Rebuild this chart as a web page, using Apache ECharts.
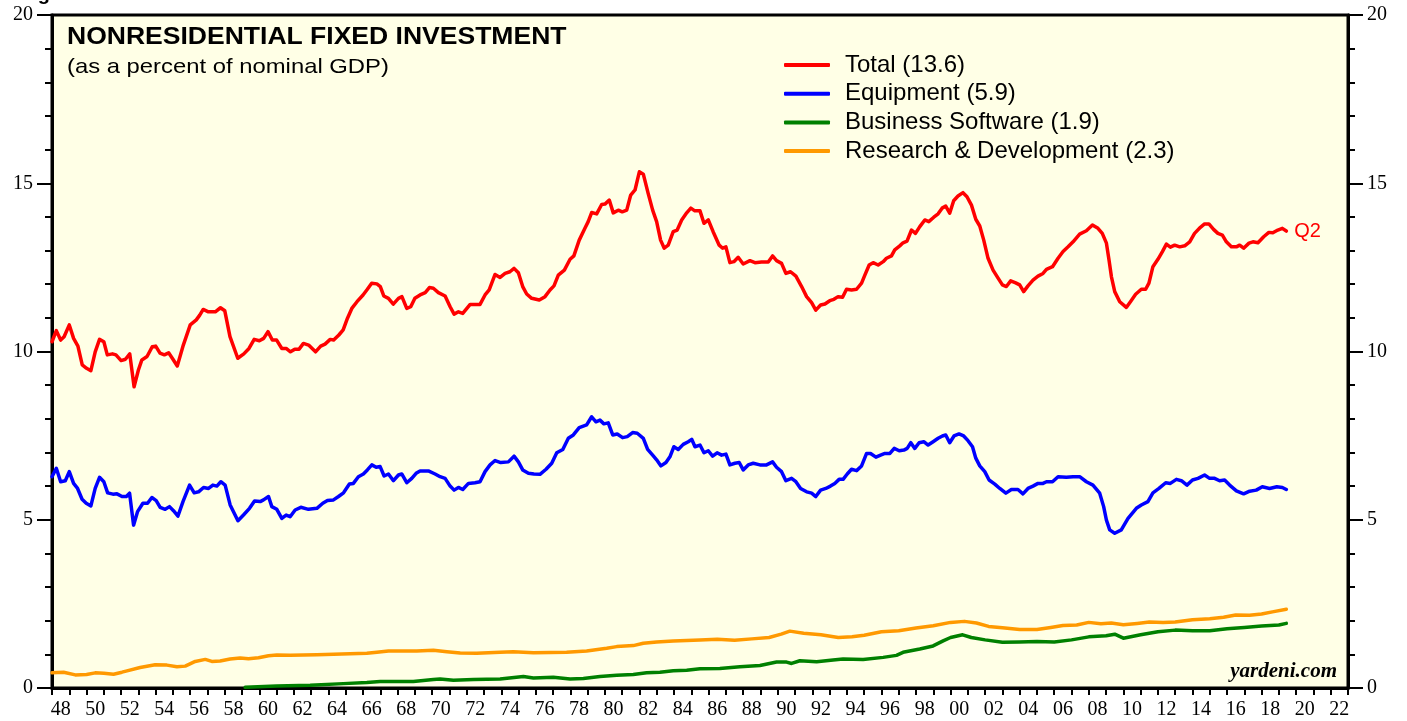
<!DOCTYPE html>
<html>
<head>
<meta charset="utf-8">
<title>Nonresidential Fixed Investment</title>
<script src="https://cdn.jsdelivr.net/npm/echarts@6.0.0/dist/echarts.min.js"></script>
<style>
  html, body { margin: 0; padding: 0; background: #fff; }
  #chart { width: 1407px; height: 721px; }
</style>
</head>
<body>
<div id="chart"></div>
<script>
// year range on the bottom axis (one category per year, label every 2nd)
var firstYear = 1948;
var lastYear = 2022;

// [year, percent of nominal GDP]
var totalData = [[1948.0,10.29],[1948.25,10.62],[1948.5,10.34],[1948.7,10.44],[1949.0,10.79],[1949.25,10.39],[1949.5,10.16],[1949.75,9.6],[1950.0,9.5],[1950.25,9.43],[1950.5,9.99],[1950.75,10.36],[1951.0,10.29],[1951.2,9.9],[1951.5,9.93],[1951.7,9.9],[1952.0,9.73],[1952.25,9.77],[1952.5,9.93],[1952.75,8.95],[1953.0,9.45],[1953.2,9.75],[1953.5,9.85],[1953.8,10.14],[1954.0,10.16],[1954.25,9.95],[1954.5,9.9],[1954.75,9.96],[1955.0,9.77],[1955.25,9.57],[1955.6,10.19],[1956.0,10.79],[1956.35,10.94],[1956.55,11.08],[1956.75,11.25],[1957.05,11.18],[1957.45,11.18],[1957.75,11.3],[1958.0,11.21],[1958.3,10.44],[1958.75,9.8],[1959.1,9.93],[1959.4,10.09],[1959.7,10.36],[1960.0,10.32],[1960.25,10.39],[1960.5,10.59],[1960.75,10.34],[1961.0,10.34],[1961.3,10.09],[1961.55,10.09],[1961.8,9.99],[1962.05,10.07],[1962.3,10.07],[1962.55,10.24],[1962.85,10.19],[1963.25,9.99],[1963.55,10.16],[1963.8,10.22],[1964.1,10.36],[1964.3,10.34],[1964.6,10.49],[1964.85,10.64],[1965.1,10.99],[1965.35,11.28],[1965.65,11.48],[1966.0,11.68],[1966.25,11.85],[1966.5,12.03],[1966.8,12.01],[1967.0,11.93],[1967.2,11.65],[1967.47,11.58],[1967.75,11.41],[1968.05,11.58],[1968.25,11.63],[1968.53,11.28],[1968.76,11.33],[1969.0,11.58],[1969.3,11.68],[1969.6,11.75],[1969.84,11.9],[1970.07,11.88],[1970.36,11.75],[1970.75,11.65],[1971.04,11.33],[1971.27,11.11],[1971.52,11.18],[1971.77,11.13],[1972.2,11.4],[1972.48,11.4],[1972.77,11.4],[1973.06,11.68],[1973.3,11.83],[1973.64,12.29],[1973.93,12.2],[1974.22,12.32],[1974.5,12.37],[1974.74,12.47],[1974.99,12.34],[1975.24,11.93],[1975.47,11.71],[1975.76,11.58],[1976.2,11.53],[1976.53,11.63],[1976.82,11.83],[1977.05,11.95],[1977.3,12.27],[1977.65,12.42],[1977.98,12.74],[1978.2,12.84],[1978.51,13.31],[1978.84,13.66],[1979.03,13.86],[1979.23,14.13],[1979.52,14.09],[1979.81,14.37],[1980.0,14.38],[1980.25,14.5],[1980.48,14.12],[1980.77,14.2],[1981.0,14.15],[1981.26,14.2],[1981.49,14.65],[1981.74,14.8],[1981.99,15.34],[1982.22,15.27],[1982.5,14.7],[1982.76,14.2],[1982.99,13.86],[1983.22,13.31],[1983.43,13.07],[1983.66,13.16],[1983.95,13.56],[1984.18,13.61],[1984.44,13.91],[1984.73,14.12],[1984.97,14.26],[1985.2,14.18],[1985.5,14.18],[1985.73,13.81],[1985.98,13.91],[1986.26,13.56],[1986.61,13.16],[1986.81,13.07],[1987.0,13.11],[1987.23,12.64],[1987.46,12.67],[1987.71,12.8],[1988.0,12.6],[1988.39,12.7],[1988.68,12.64],[1989.06,12.66],[1989.45,12.66],[1989.7,12.84],[1989.93,12.7],[1990.22,12.62],[1990.47,12.32],[1990.74,12.37],[1991.05,12.24],[1991.38,11.93],[1991.67,11.63],[1991.96,11.45],[1992.2,11.23],[1992.48,11.38],[1992.73,11.41],[1993.01,11.51],[1993.25,11.55],[1993.49,11.63],[1993.75,11.61],[1993.98,11.85],[1994.27,11.83],[1994.56,11.85],[1994.85,12.03],[1995.04,12.27],[1995.29,12.57],[1995.52,12.64],[1995.81,12.57],[1996.1,12.67],[1996.29,12.77],[1996.58,12.84],[1996.77,13.02],[1997.06,13.14],[1997.25,13.23],[1997.48,13.28],[1997.74,13.61],[1997.97,13.51],[1998.22,13.71],[1998.51,13.91],[1998.74,13.86],[1999.03,13.99],[1999.28,14.09],[1999.51,14.26],[1999.72,14.32],[1999.95,14.11],[2000.18,14.48],[2000.43,14.62],[2000.72,14.72],[2000.95,14.6],[2001.21,14.35],[2001.46,13.93],[2001.69,13.73],[2001.92,13.31],[2002.17,12.77],[2002.46,12.42],[2002.75,12.18],[2003.0,11.98],[2003.23,11.93],[2003.48,12.1],[2003.77,12.04],[2004.0,11.98],[2004.23,11.78],[2004.48,11.95],[2004.77,12.12],[2005.06,12.24],[2005.35,12.32],[2005.55,12.44],[2005.9,12.52],[2006.22,12.77],[2006.51,12.97],[2006.8,13.11],[2007.09,13.26],[2007.47,13.49],[2007.86,13.59],[2008.21,13.76],[2008.53,13.66],[2008.78,13.51],[2009.02,13.22],[2009.17,12.72],[2009.31,12.22],[2009.5,11.78],[2009.79,11.48],[2010.17,11.31],[2010.41,11.48],[2010.71,11.7],[2011.04,11.85],[2011.29,11.85],[2011.48,12.03],[2011.71,12.52],[2012.0,12.74],[2012.26,12.97],[2012.49,13.19],[2012.72,13.1],[2012.97,13.16],[2013.26,13.11],[2013.55,13.14],[2013.84,13.26],[2014.12,13.51],[2014.46,13.69],[2014.7,13.79],[2014.95,13.79],[2015.22,13.63],[2015.47,13.51],[2015.73,13.46],[2015.96,13.26],[2016.25,13.11],[2016.54,13.11],[2016.73,13.16],[2016.96,13.07],[2017.27,13.22],[2017.5,13.26],[2017.79,13.23],[2018.12,13.41],[2018.42,13.54],[2018.65,13.53],[2018.94,13.61],[2019.2,13.66],[2019.43,13.58]];

var equipmentData = [[1948.0,6.28],[1948.25,6.53],[1948.5,6.13],[1948.77,6.16],[1949.0,6.43],[1949.25,6.08],[1949.48,5.93],[1949.74,5.61],[1949.98,5.49],[1950.25,5.41],[1950.5,5.93],[1950.75,6.26],[1951.0,6.13],[1951.22,5.8],[1951.53,5.76],[1951.76,5.77],[1952.05,5.69],[1952.3,5.69],[1952.49,5.79],[1952.72,4.84],[1952.95,5.24],[1953.26,5.49],[1953.53,5.49],[1953.78,5.66],[1954.03,5.57],[1954.26,5.37],[1954.55,5.31],[1954.8,5.39],[1955.03,5.27],[1955.29,5.11],[1955.58,5.54],[1955.96,6.03],[1956.23,5.8],[1956.48,5.83],[1956.77,5.96],[1957.06,5.93],[1957.31,6.03],[1957.54,6.0],[1957.77,6.13],[1958.02,6.03],[1958.31,5.44],[1958.76,4.97],[1959.08,5.14],[1959.43,5.34],[1959.72,5.56],[1960.05,5.54],[1960.24,5.59],[1960.53,5.69],[1960.72,5.39],[1961.01,5.31],[1961.3,5.04],[1961.55,5.14],[1961.78,5.09],[1962.07,5.29],[1962.4,5.37],[1962.84,5.31],[1963.33,5.34],[1963.67,5.49],[1963.94,5.57],[1964.29,5.59],[1964.58,5.69],[1964.87,5.8],[1965.21,6.06],[1965.44,6.08],[1965.73,6.28],[1966.02,6.36],[1966.25,6.48],[1966.51,6.63],[1966.76,6.56],[1966.99,6.58],[1967.22,6.3],[1967.47,6.36],[1967.76,6.16],[1968.05,6.33],[1968.24,6.36],[1968.53,6.1],[1968.82,6.23],[1969.07,6.38],[1969.3,6.45],[1969.78,6.45],[1970.17,6.36],[1970.46,6.28],[1970.75,6.23],[1971.04,6.0],[1971.27,5.88],[1971.52,5.96],[1971.77,5.9],[1972.1,6.08],[1972.48,6.1],[1972.77,6.13],[1973.06,6.43],[1973.35,6.63],[1973.64,6.76],[1973.97,6.7],[1974.41,6.72],[1974.74,6.89],[1974.99,6.72],[1975.24,6.48],[1975.57,6.38],[1975.89,6.36],[1976.24,6.35],[1976.59,6.5],[1976.92,6.68],[1977.21,6.99],[1977.56,7.09],[1977.88,7.42],[1978.17,7.52],[1978.51,7.74],[1978.94,7.82],[1979.23,8.06],[1979.48,7.91],[1979.71,7.96],[1979.94,7.85],[1980.19,7.88],[1980.45,7.52],[1980.71,7.55],[1981.02,7.44],[1981.29,7.47],[1981.6,7.59],[1981.87,7.57],[1982.22,7.42],[1982.47,7.09],[1982.76,6.92],[1982.99,6.78],[1983.24,6.6],[1983.53,6.7],[1983.76,6.87],[1983.99,7.17],[1984.24,7.09],[1984.53,7.24],[1984.82,7.32],[1985.02,7.39],[1985.21,7.17],[1985.5,7.22],[1985.73,6.99],[1985.98,7.05],[1986.23,6.89],[1986.49,6.99],[1986.75,6.92],[1987.0,6.95],[1987.23,6.63],[1987.52,6.68],[1987.77,6.7],[1988.0,6.48],[1988.29,6.63],[1988.58,6.68],[1988.97,6.63],[1989.35,6.63],[1989.7,6.72],[1989.93,6.56],[1990.22,6.43],[1990.47,6.16],[1990.8,6.23],[1991.05,6.13],[1991.32,5.93],[1991.67,5.83],[1991.96,5.79],[1992.2,5.69],[1992.48,5.88],[1992.78,5.93],[1993.05,6.0],[1993.3,6.08],[1993.55,6.2],[1993.78,6.2],[1994.02,6.36],[1994.27,6.5],[1994.56,6.46],[1994.85,6.6],[1995.14,6.97],[1995.37,6.97],[1995.68,6.86],[1995.95,6.92],[1996.2,6.97],[1996.49,6.97],[1996.74,7.12],[1997.03,7.05],[1997.3,7.07],[1997.49,7.12],[1997.7,7.29],[1997.93,7.12],[1998.18,7.29],[1998.45,7.32],[1998.7,7.22],[1998.99,7.32],[1999.28,7.42],[1999.53,7.49],[1999.72,7.52],[1999.95,7.29],[2000.2,7.49],[2000.49,7.55],[2000.76,7.49],[2001.01,7.35],[2001.27,7.17],[2001.46,6.83],[2001.69,6.6],[2001.98,6.43],[2002.23,6.18],[2002.56,6.06],[2002.85,5.93],[2003.2,5.79],[2003.52,5.9],[2003.9,5.9],[2004.19,5.77],[2004.48,5.93],[2004.77,6.0],[2005.06,6.08],[2005.35,6.08],[2005.55,6.13],[2005.9,6.13],[2006.22,6.28],[2006.7,6.26],[2007.09,6.28],[2007.47,6.28],[2007.86,6.13],[2008.24,6.03],[2008.63,5.79],[2008.86,5.39],[2009.02,4.99],[2009.21,4.7],[2009.5,4.6],[2009.88,4.7],[2010.27,5.04],[2010.75,5.34],[2011.04,5.44],[2011.42,5.54],[2011.71,5.8],[2012.06,5.93],[2012.45,6.1],[2012.72,6.08],[2013.07,6.2],[2013.36,6.16],[2013.68,6.03],[2014.0,6.18],[2014.32,6.23],[2014.7,6.33],[2014.99,6.23],[2015.28,6.23],[2015.57,6.16],[2015.86,6.18],[2016.15,6.03],[2016.54,5.86],[2016.96,5.77],[2017.31,5.85],[2017.69,5.88],[2018.04,5.98],[2018.46,5.93],[2018.88,5.98],[2019.2,5.96],[2019.43,5.9]];

var softwareData = [[1959.18,0.02],[1961.0,0.06],[1962.94,0.08],[1964.86,0.13],[1966.22,0.16],[1966.99,0.19],[1968.91,0.19],[1970.07,0.25],[1970.46,0.27],[1971.23,0.23],[1972.39,0.25],[1973.93,0.27],[1975.28,0.34],[1975.86,0.3],[1977.01,0.32],[1977.98,0.27],[1978.75,0.28],[1979.71,0.34],[1980.68,0.38],[1981.64,0.4],[1982.41,0.45],[1983.18,0.47],[1983.95,0.51],[1984.73,0.53],[1985.5,0.57],[1986.65,0.58],[1987.81,0.63],[1988.97,0.67],[1989.93,0.77],[1990.51,0.77],[1990.8,0.73],[1991.28,0.81],[1992.25,0.78],[1993.2,0.83],[1993.78,0.86],[1994.94,0.85],[1996.1,0.91],[1996.87,0.97],[1997.25,1.06],[1998.22,1.16],[1998.99,1.25],[1999.57,1.4],[2000.0,1.5],[2000.7,1.58],[2001.2,1.5],[2002.0,1.43],[2003.0,1.36],[2004.0,1.37],[2005.0,1.38],[2006.0,1.37],[2007.0,1.43],[2008.0,1.52],[2009.0,1.55],[2009.5,1.6],[2010.0,1.48],[2011.0,1.58],[2012.0,1.67],[2013.0,1.72],[2014.0,1.7],[2015.0,1.7],[2016.0,1.76],[2017.0,1.8],[2018.0,1.84],[2019.0,1.87],[2019.43,1.92]];

var rdData = [[1948.0,0.45],[1948.67,0.47],[1949.35,0.39],[1950.0,0.4],[1950.5,0.45],[1951.0,0.44],[1951.56,0.41],[1952.05,0.47],[1952.34,0.51],[1953.1,0.61],[1953.97,0.69],[1954.65,0.68],[1955.23,0.63],[1955.71,0.65],[1956.29,0.79],[1956.87,0.85],[1957.25,0.79],[1957.73,0.8],[1958.31,0.86],[1958.89,0.89],[1959.37,0.87],[1959.95,0.9],[1960.53,0.96],[1961.01,0.98],[1961.78,0.97],[1962.55,0.98],[1963.33,0.99],[1964.29,1.0],[1965.25,1.02],[1966.22,1.03],[1966.8,1.06],[1967.47,1.1],[1968.14,1.1],[1969.11,1.1],[1970.07,1.12],[1970.85,1.08],[1971.62,1.04],[1972.58,1.03],[1973.93,1.06],[1974.7,1.08],[1975.86,1.05],[1977.78,1.06],[1978.94,1.1],[1980.1,1.18],[1980.68,1.23],[1981.64,1.26],[1982.22,1.33],[1982.99,1.37],[1983.95,1.4],[1985.5,1.43],[1986.5,1.45],[1987.5,1.42],[1988.5,1.46],[1989.5,1.5],[1990.2,1.6],[1990.7,1.69],[1991.5,1.63],[1992.5,1.58],[1993.5,1.5],[1994.3,1.52],[1995.0,1.57],[1996.0,1.67],[1997.0,1.7],[1998.0,1.78],[1999.0,1.85],[2000.0,1.95],[2000.8,1.98],[2001.5,1.93],[2002.2,1.83],[2003.0,1.79],[2004.0,1.74],[2005.0,1.74],[2005.8,1.8],[2006.5,1.86],[2007.3,1.87],[2008.0,1.95],[2008.7,1.91],[2009.3,1.93],[2010.0,1.88],[2010.8,1.92],[2011.5,1.96],[2012.3,1.95],[2013.0,1.96],[2014.0,2.03],[2015.0,2.06],[2015.8,2.1],[2016.5,2.17],[2017.3,2.16],[2018.0,2.2],[2018.7,2.27],[2019.43,2.34]];

var seriesNames = ["Total (13.6)", "Equipment (5.9)", "Business Software (1.9)", "Research & Development (2.3)"];
var seriesColors = ["#ff0000", "#0000ff", "#008000", "#ff9900"];

var yearCategories = [];
for (var y = firstYear; y <= lastYear; y++) {
  yearCategories.push(String(y).slice(2));
}

var sans = '"Liberation Sans", Arial, Helvetica, sans-serif';
var serif = '"Liberation Serif", "Times New Roman", serif';

function valueAxis(pos) {
  return {
    type: "value",
    position: pos,
    min: 0,
    max: 20,
    interval: 5,
    axisLine: { show: true, lineStyle: { color: "#000", width: 3 } },
    axisTick: { show: true, length: 15, lineStyle: { color: "#000", width: 2 } },
    minorTick: { show: true, splitNumber: 5, length: 7, lineStyle: { color: "#000", width: 2 } },
    axisLabel: { color: "#000", fontFamily: serif, fontSize: 20, margin: 19 },
    splitLine: { show: false },
    minorSplitLine: { show: false }
  };
}

function lineSeries(i, data) {
  return {
    name: seriesNames[i],
    type: "line",
    xAxisIndex: 1,
    yAxisIndex: 0,
    data: data,
    showSymbol: false,
    symbol: "none",
    lineStyle: { color: seriesColors[i], width: 3.5, cap: "round", join: "round" },
    itemStyle: { color: seriesColors[i] },
    animation: false
  };
}

var chart = echarts.init(document.getElementById("chart"), null, { renderer: "canvas" });

var total = lineSeries(0, totalData);
total.endLabel = {
  show: true,
  formatter: "Q2",
  color: "#ff0000",
  fontFamily: sans,
  fontSize: 20,
  distance: 8
};

var option = {
  animation: false,
  backgroundColor: "#ffffff",
  grid: {
    left: 52,
    right: 59,
    top: 15,
    bottom: 33,
    show: true,
    backgroundColor: "#ffffe6",
    borderColor: "#000",
    borderWidth: 3
  },
  legend: {
    left: 779,
    top: 48,
    orient: "vertical",
    icon: "roundRect",
    itemWidth: 46,
    itemHeight: 4,
    itemGap: 4.7,
    data: seriesNames,
    // gap between line icon and text is fixed at 5px, pad the text to push it right
    textStyle: { color: "#000", fontFamily: sans, fontSize: 24, lineHeight: 24, padding: [0, 0, 0, 10] }
  },
  xAxis: [
    {
      // category axis only draws the year ticks and labels
      type: "category",
      data: yearCategories,
      boundaryGap: true,
      position: "bottom",
      axisLine: { show: true, lineStyle: { color: "#000", width: 3 } },
      axisTick: { show: true, interval: 0, length: 7, lineStyle: { color: "#000", width: 2 } },
      axisLabel: { interval: 1, color: "#000", fontFamily: serif, fontSize: 20, margin: 12 },
      splitLine: { show: false }
    },
    {
      type: "value",
      min: firstYear,
      max: lastYear + 1,
      show: false,
      splitLine: { show: false }
    }
  ],
  yAxis: [valueAxis("left"), valueAxis("right")],
  graphic: [
    {
      type: "text",
      left: 20,
      top: -16,
      style: { text: "Figure", font: "bold 20px " + sans, fill: "#000" }
    },
    {
      type: "text",
      x: 67,
      y: 37,
      style: {
        text: "NONRESIDENTIAL FIXED INVESTMENT",
        font: "bold 24px " + sans,
        fill: "#000",
        textVerticalAlign: "middle"
      },
      scaleX: 1.105
    },
    {
      type: "text",
      x: 67,
      y: 67,
      style: {
        text: "(as a percent of nominal GDP)",
        font: "21px " + sans,
        fill: "#000",
        textVerticalAlign: "middle"
      },
      scaleX: 1.135
    },
    {
      type: "text",
      x: 1337,
      y: 672,
      style: {
        text: "yardeni.com",
        font: "italic bold 21px " + serif,
        fill: "#000",
        textAlign: "right",
        textVerticalAlign: "middle"
      }
    }
  ],
  series: [
    total,
    lineSeries(1, equipmentData),
    lineSeries(2, softwareData),
    lineSeries(3, rdData)
  ]
};

chart.setOption(option);
</script>
</body>
</html>
